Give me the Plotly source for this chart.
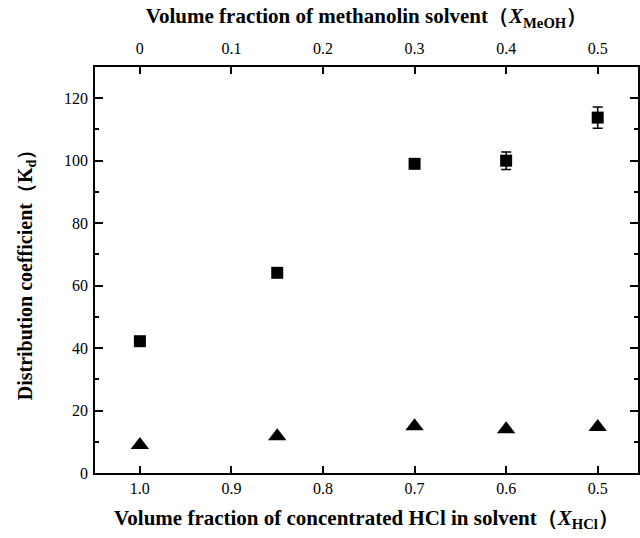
import plotly.graph_objects as go

# Data
x_hcl = [1.0, 0.85, 0.7, 0.6, 0.5]
kd_square = [42.2, 64.1, 99.0, 100.0, 113.8]
kd_square_err = [0.5, 0.8, 1.2, 2.8, 3.4]
kd_triangle = [9.0, 11.8, 15.0, 14.0, 14.7]

top_ticks = [0, 0.1, 0.2, 0.3, 0.4, 0.5]
bottom_ticks = [1.0, 0.9, 0.8, 0.7, 0.6, 0.5]
bottom_ticklabels = ["1.0", "0.9", "0.8", "0.7", "0.6", "0.5"]
top_ticklabels = ["0", "0.1", "0.2", "0.3", "0.4", "0.5"]

FONT = "Liberation Serif"

fig = go.Figure()
fig.add_trace(go.Scatter(
    x=x_hcl, y=kd_square, mode="markers",
    marker=dict(symbol="square", size=12, color="black"),
    error_y=dict(type="data", array=kd_square_err, visible=True,
                 color="black", thickness=1.5, width=5),
    showlegend=False,
))
fig.add_trace(go.Scatter(
    x=x_hcl, y=kd_triangle, mode="markers",
    marker=dict(symbol="triangle-up", size=16, color="black"),
    showlegend=False,
))
# invisible trace to activate top axis
fig.add_trace(go.Scatter(
    x=[1 - v for v in x_hcl], y=kd_triangle, xaxis="x2", mode="markers",
    marker=dict(opacity=0), hoverinfo="skip", showlegend=False,
))

x_lo, x_hi = 1.049, 0.456

fig.update_layout(
    width=640, height=538,
    margin=dict(l=95, r=0, t=67, b=65),
    paper_bgcolor="white", plot_bgcolor="white",
    font=dict(family=FONT, size=16, color="black"),
    xaxis=dict(
        range=[x_lo, x_hi], tickvals=bottom_ticks, ticktext=bottom_ticklabels,
        ticks="inside", ticklen=7, tickwidth=1.5, tickcolor="black",
        showline=True, linewidth=1.5, linecolor="black",
        showgrid=False, zeroline=False,
        title=dict(text="<b>Volume fraction of concentrated HCl in solvent（<i>X</i><sub>HCl</sub>）</b>",
                   font=dict(size=21, family=FONT), standoff=14),
        tickfont=dict(size=16, family=FONT),
    ),
    xaxis2=dict(
        overlaying="x", side="top",
        range=[1 - x_lo, 1 - x_hi], tickvals=top_ticks, ticktext=top_ticklabels,
        ticks="inside", ticklen=7, tickwidth=1.5, tickcolor="black",
        showline=True, linewidth=1.5, linecolor="black",
        showgrid=False, zeroline=False, ticklabelstandoff=5,
        title=dict(text="<b>Volume fraction of methanolin solvent（<i>X</i><sub>MeOH</sub>）</b>",
                   font=dict(size=21, family=FONT), standoff=10),
        tickfont=dict(size=16, family=FONT),
    ),
    yaxis=dict(
        range=[0, 130], tickvals=[0, 20, 40, 60, 80, 100, 120],
        ticks="inside", ticklen=8, tickwidth=1.5, tickcolor="black",
        minor=dict(tickvals=[10, 30, 50, 70, 90, 110, 130], ticks="inside",
                   ticklen=4, tickwidth=1.5, tickcolor="black"),
        showline=True, linewidth=1.5, linecolor="black", mirror="ticks",
        showgrid=False, zeroline=False, ticklabelstandoff=2,
        title=dict(text="<b>Distribution coefficient（K<sub>d</sub>）</b>",
                   font=dict(size=20, family=FONT), standoff=26),
        tickfont=dict(size=16, family=FONT),
    ),
)

fig.write_html("out.html")
